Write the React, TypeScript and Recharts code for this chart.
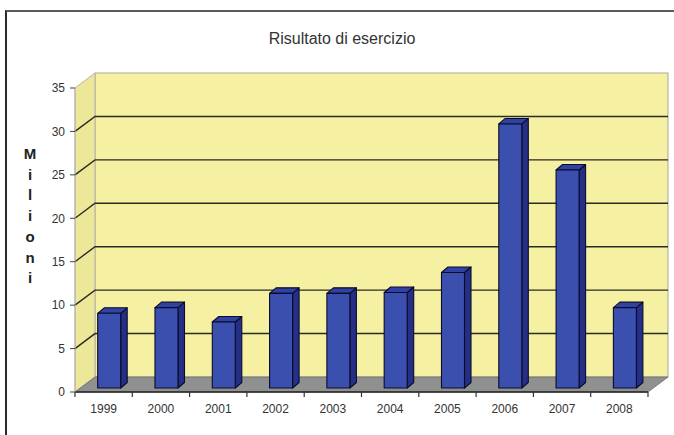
import React from 'react';
import { BarChart, Bar, XAxis, YAxis, ReferenceArea, ReferenceLine } from 'recharts';

const categories = ['1999', '2000', '2001', '2002', '2003', '2004', '2005', '2006', '2007', '2008'];
const values = [8.6, 9.25, 7.6, 10.9, 10.9, 11.0, 13.3, 30.4, 25.1, 9.25];
const yTicks = [0, 5, 10, 15, 20, 25, 30, 35];
const gridValues = [5, 10, 15, 20, 25, 30];
const titleText = 'Risultato di esercizio';
const axisTitle = 'Milioni';

const data = categories.map((c, i) => ({ year: c, value: values[i] }));

const FONT = '"Liberation Sans", Arial, sans-serif';
const DX = 20;
const DY = 15;
const BAR_DX = 6.5;
const BAR_DY = 5.5;
const BAR_SHIFT_X = 5.5;
const BAR_SHIFT_Y = 4;
const PLOT_W = 573;
const BW = PLOT_W / categories.length;

const Walls = (props: any) => {
  const { x, y, width, height } = props;
  if (x == null || y == null) return <g />;
  const b = y + height;
  return (
    <g>
      <rect x={x + DX} y={y - DY} width={width} height={height} fill="#F5F0A2" stroke="#A9A79A" strokeWidth={1} />
      <polygon
        points={`${x},${y} ${x + DX},${y - DY} ${x + DX},${b - DY} ${x},${b}`}
        fill="#EDE79A"
        stroke="#B5B3A5"
        strokeWidth={1}
      />
      <polygon
        points={`${x},${b} ${x + width},${b} ${x + width + DX},${b - DY} ${x + DX},${b - DY}`}
        fill="#8F9090"
        stroke="#6a6a6a"
        strokeWidth={0.8}
      />
    </g>
  );
};

const GridLine3D = (props: any) => {
  const { x1, y1, x2 } = props;
  if (x1 == null || y1 == null) return <g />;
  return (
    <polyline
      points={`${x1},${y1} ${x1 + DX},${y1 - DY} ${x2 + DX},${y1 - DY}`}
      fill="none"
      stroke="#2b2b22"
      strokeWidth={1.4}
    />
  );
};

const Bar3D = (props: any) => {
  const { x, y, width, height } = props;
  if (x == null || y == null || !height) return <g />;
  const x0 = x + BAR_SHIFT_X;
  const y0 = y - BAR_SHIFT_Y;
  const w = width;
  const h = height;
  return (
    <g stroke="#0a0c28" strokeWidth={1.1} strokeLinejoin="round">
      <polygon
        points={`${x0 + w},${y0} ${x0 + w + BAR_DX},${y0 - BAR_DY} ${x0 + w + BAR_DX},${y0 + h - BAR_DY} ${x0 + w},${y0 + h}`}
        fill="#262F88"
      />
      <polygon
        points={`${x0},${y0} ${x0 + BAR_DX},${y0 - BAR_DY} ${x0 + w + BAR_DX},${y0 - BAR_DY} ${x0 + w},${y0}`}
        fill="#3242A4"
      />
      <rect x={x0} y={y0} width={w} height={h} fill="#3A4FAE" />
    </g>
  );
};

const XTick = (props: any) => {
  const { x, y, payload, index } = props;
  const last = index === categories.length - 1;
  return (
    <g>
      <line x1={x - BW / 2} y1={y} x2={x - BW / 2} y2={y + 5} stroke="#333" strokeWidth={1.2} />
      {last ? <line x1={x + BW / 2} y1={y} x2={x + BW / 2} y2={y + 5} stroke="#333" strokeWidth={1.2} /> : null}
      <text x={x} y={y + 21} textAnchor="middle" fontSize={12} fill="#333" fontFamily={FONT}>
        {payload.value}
      </text>
    </g>
  );
};

export default function App() {
  const letterYs = axisTitle.split('').map((_, i) => 154 + i * 20.7);
  return (
    <div style={{ position: 'absolute', left: 0, top: 0, width: 674, height: 435, background: '#fff', overflow: 'hidden' }}>
      <div
        style={{
          position: 'absolute',
          left: 5,
          top: 10,
          width: 700,
          height: 440,
          borderTop: '2px solid #5a5a5a',
          borderLeft: '2px solid #2a2a2a',
        }}
      />
      <div
        style={{
          position: 'absolute',
          left: 0,
          top: 30,
          width: 684,
          textAlign: 'center',
          fontFamily: FONT,
          fontSize: 16,
          color: '#333',
        }}
      >
        {titleText}
      </div>
      {axisTitle.split('').map((ch, i) => (
        <div
          key={i}
          style={{
            position: 'absolute',
            left: 20,
            width: 20,
            top: letterYs[i] - 9,
            height: 18,
            lineHeight: '18px',
            textAlign: 'center',
            fontFamily: FONT,
            fontWeight: 'bold',
            fontSize: 15,
            color: '#222',
          }}
        >
          {ch}
        </div>
      ))}
      <div style={{ position: 'absolute', left: 0, top: 0 }}>
        <BarChart
          width={674}
          height={435}
          data={data}
          margin={{ top: 88, right: 26, bottom: 23, left: 50 }}
          barCategoryGap="30%"
        >
          <ReferenceArea y1={0} y2={35} ifOverflow="visible" shape={Walls} zIndex={-300} />
          {gridValues.map((t) => (
            <ReferenceLine key={t} y={t} ifOverflow="visible" shape={GridLine3D} zIndex={-250} />
          ))}
          <XAxis
            dataKey="year"
            interval={0}
            tickLine={false}
            tickSize={0}
            tickMargin={0}
            height={20}
            axisLine={{ stroke: '#222', strokeWidth: 1.5 }}
            tick={XTick}
          />
          <YAxis
            type="number"
            domain={[0, 35]}
            ticks={yTicks}
            interval={0}
            width={25}
            tickSize={5}
            tickMargin={5}
            axisLine={{ stroke: '#b8b8b0' }}
            tickLine={{ stroke: '#444' }}
            tick={{ fontSize: 12, fill: '#333', fontFamily: FONT }}
          />
          <Bar dataKey="value" isAnimationActive={false} shape={Bar3D} />
        </BarChart>
      </div>
    </div>
  );
}
